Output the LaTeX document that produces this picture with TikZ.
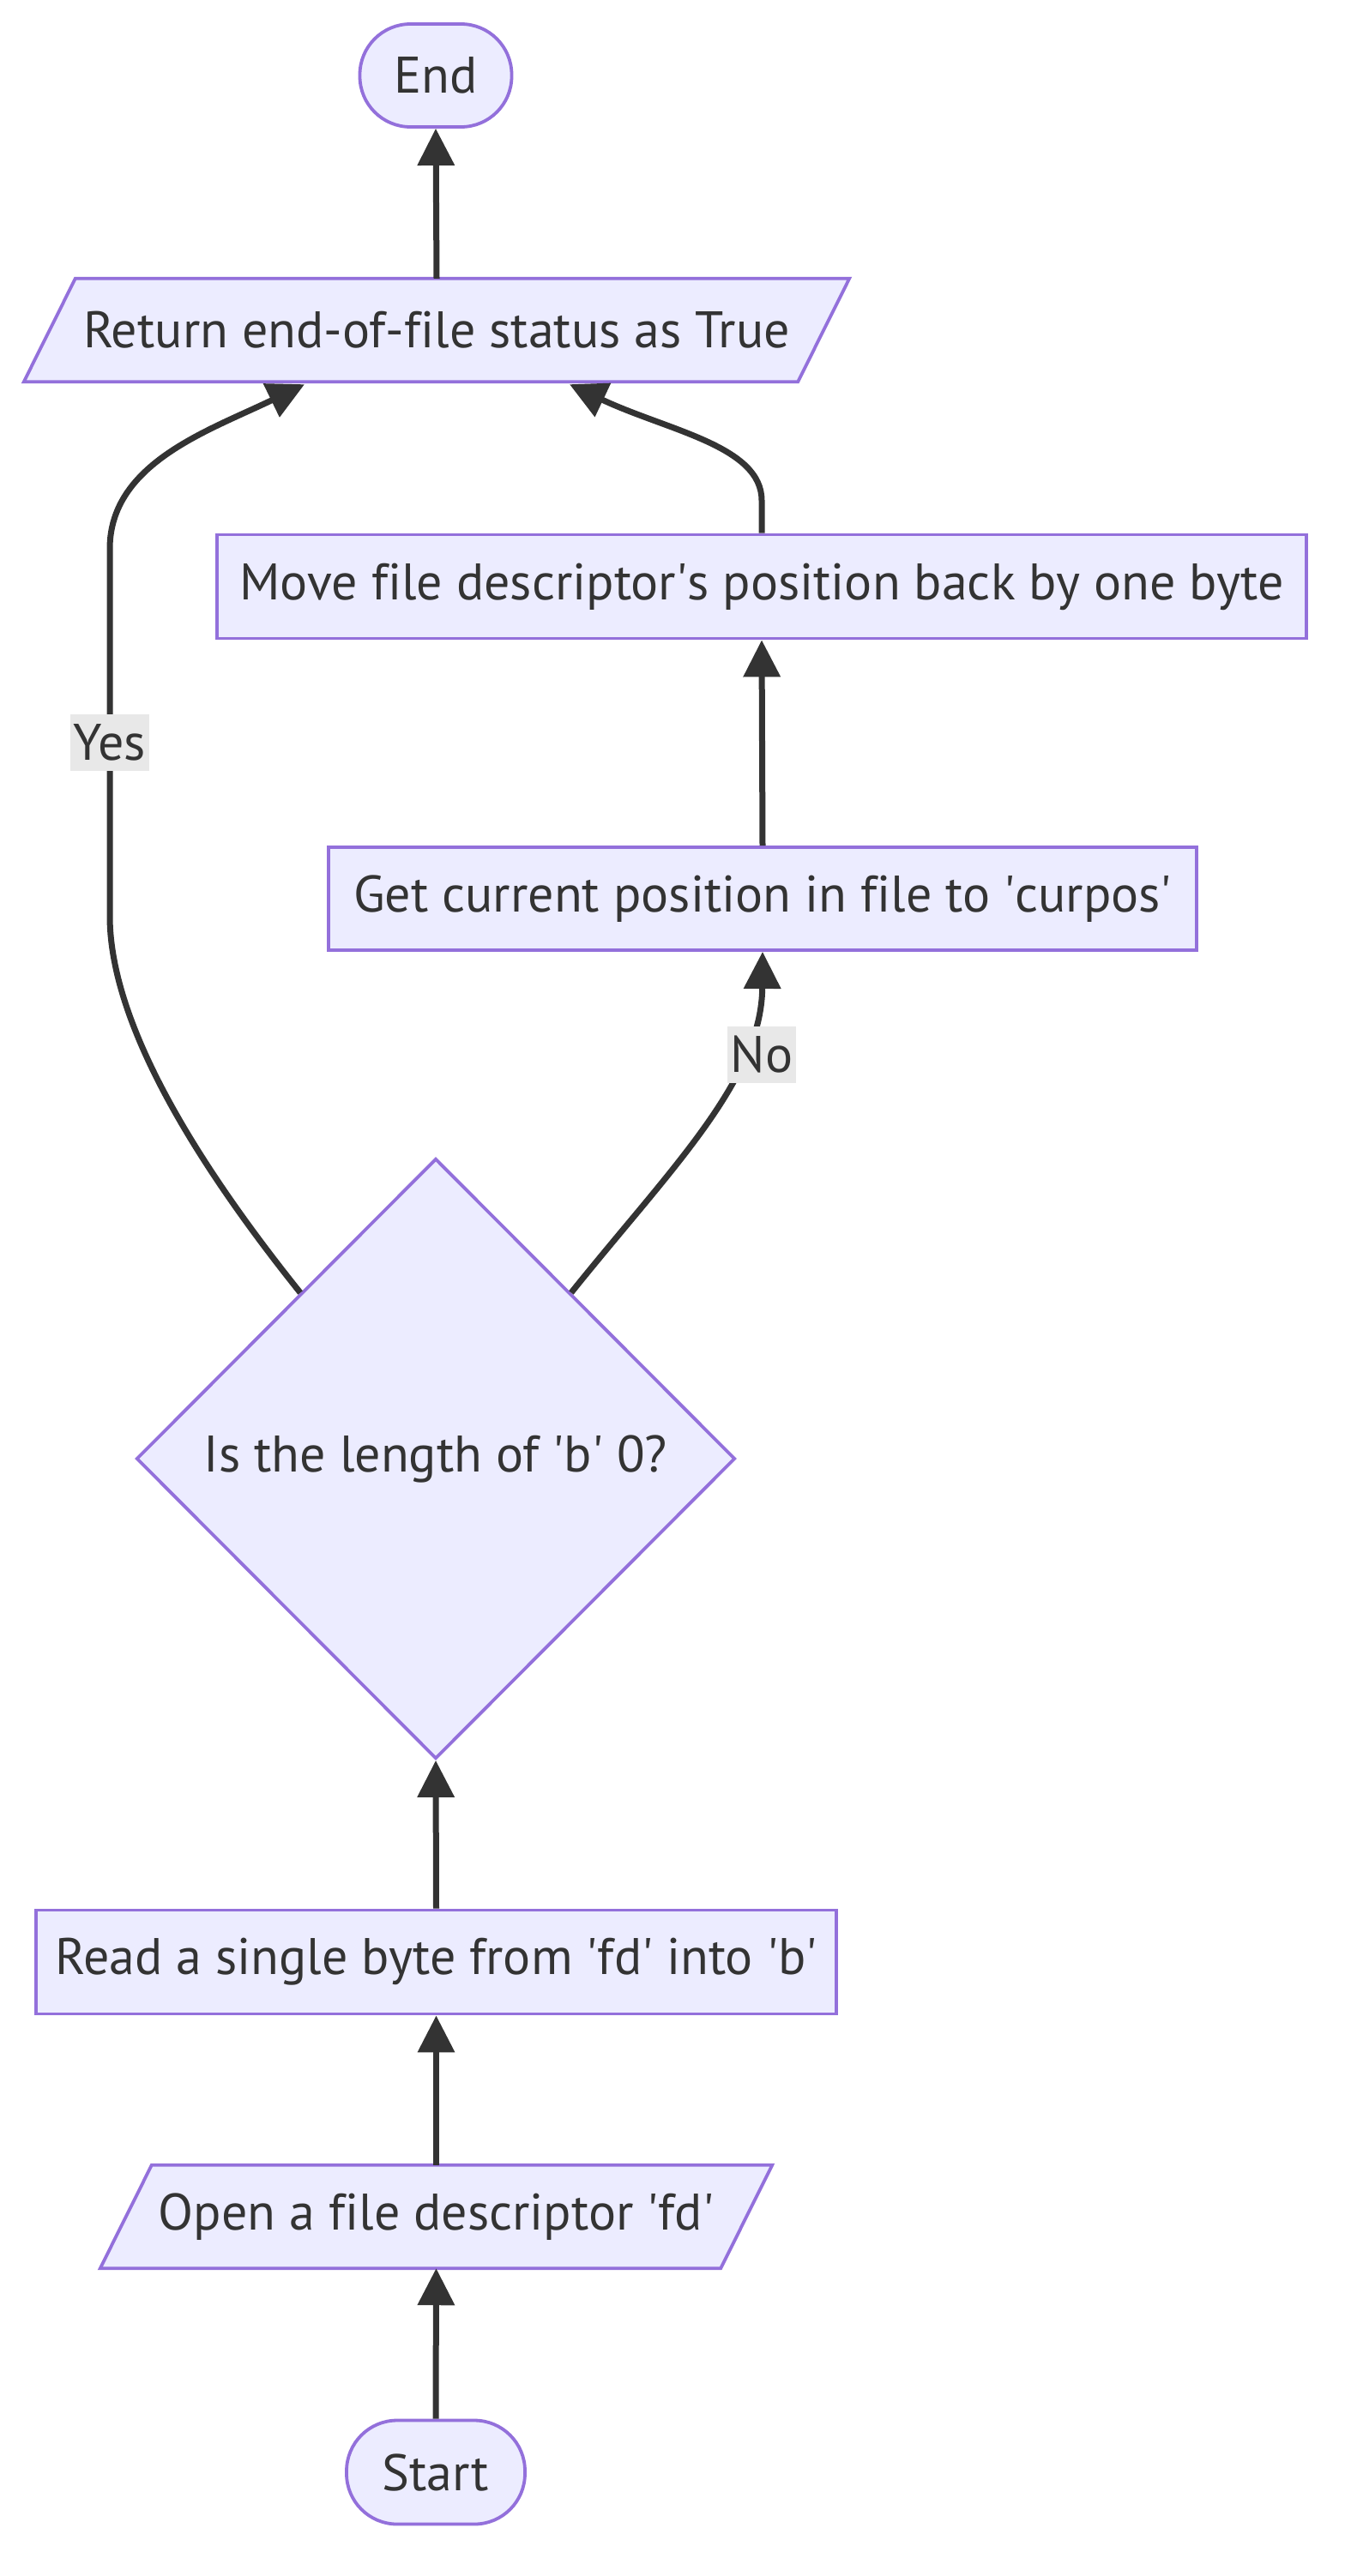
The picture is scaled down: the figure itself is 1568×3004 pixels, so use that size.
\documentclass[tikz,border=0pt]{standalone}
\usepackage{fontspec}
\setmainfont{PT Sans}[Ligatures=NoCommon]
\usetikzlibrary{shapes.geometric,arrows.meta,calc,backgrounds}
\definecolor{mfill}{HTML}{ECECFF}
\definecolor{mborder}{HTML}{9370DB}
\definecolor{mline}{HTML}{333333}
\definecolor{mlbl}{HTML}{E8E8E8}
\newlength\mwid
\newcommand\apos{\textquotesingle}
\begin{document}
\settowidth{\mwid}{\fontsize{10pt}{12pt}\selectfont Move file descriptor\apos s position back by one byte}%
\pgfmathsetmacro\fsz{10*1217/(\mwid+0.01pt)}%
\begin{tikzpicture}[x=1pt,y=-1pt]
\tikzset{
  base/.style={font=\fontsize{\fsz pt}{\fsz pt}\selectfont, text=mline, inner sep=0pt, align=center},
  proc/.style={base, rectangle, fill=mfill, draw=mborder, line width=3.8pt},
  term/.style={base, rectangle, rounded corners=59pt, fill=mfill, draw=mborder, line width=3.8pt},
  iobox/.style={base, rectangle},
  ioshape/.style={fill=mfill, draw=mborder, line width=3.8pt},
  decision/.style={base, diamond, shape aspect=1, fill=mfill, draw=mborder, line width=3.8pt},
  edge/.style={draw=mline, line width=7pt, -{Triangle[length=43pt,width=42pt]}},
  lbl/.style={base, fill=mlbl, minimum height=66pt, inner xsep=4pt}
}
\useasboundingbox (0,0) rectangle (1568,3004);
% nodes
\node[term, minimum width=177pt, minimum height=120pt] (endn) at (508,88) {End};
\node[iobox, minimum width=902pt, minimum height=120pt] (ret) at (509,385) {Return end-of-file status as True};
\node[proc, minimum width=1270pt, minimum height=121pt] (move) at (888,684) {Move file descriptor\apos s position back by one byte};
\node[proc, minimum width=1012pt, minimum height=120pt] (get) at (889,1048) {Get current position in file to \apos curpos\apos};
\node[decision, minimum width=698pt, minimum height=700pt] (dia) at (508,1701) {Is the length of \apos b\apos\ 0?};
\node[proc, minimum width=933pt, minimum height=121pt] (read) at (508.5,2288) {Read a single byte from \apos fd\apos\ into \apos b\apos};
\node[iobox, minimum width=723pt, minimum height=120pt] (open) at (508.5,2585) {Open a file descriptor \apos fd\apos};
\node[term, minimum width=208pt, minimum height=121pt] (startn) at (508,2883) {Start};
% edges
\draw[edge] (startn.north) -- (open.south);
\draw[edge] (open.north) -- (read.south);
\draw[edge] (read.north) -- (dia.south);
\draw[edge] ($(dia.north)!0.45!(dia.east)$) .. controls (780,1365) and (888,1260) .. (get.south);
\draw[edge] (get.north) -- (move.south);
\draw[edge] (move.north) -- ($(move.north)+(0,-38)$) .. controls (888,520) and (778,502) .. ($(ret.south)+(155,3)$);
\draw[edge] ($(dia.north)!0.45!(dia.west)$) .. controls (240,1370) and (128,1200) .. (128,1068) -- (128,640) .. controls (128,540) and (244,502) .. ($(ret.south)+(-154,3)$);
\draw[edge] (ret.north) -- (endn.south);
% labels
\node[lbl] (yes) at (128,866) {Yes};
\node[lbl] (no) at (888,1230) {No};
% background shapes
\begin{scope}[on background layer]
\fill[white] (0,0) rectangle (1568,3004);
\filldraw[ioshape] ($(ret.north west)+(30,0)$) -- ($(ret.north east)+(30,0)$) -- ($(ret.south east)+(-30,0)$) -- ($(ret.south west)+(-30,0)$) -- cycle;
\filldraw[ioshape] ($(open.north west)+(30,0)$) -- ($(open.north east)+(30,0)$) -- ($(open.south east)+(-30,0)$) -- ($(open.south west)+(-30,0)$) -- cycle;
\end{scope}
\end{tikzpicture}
\end{document}
